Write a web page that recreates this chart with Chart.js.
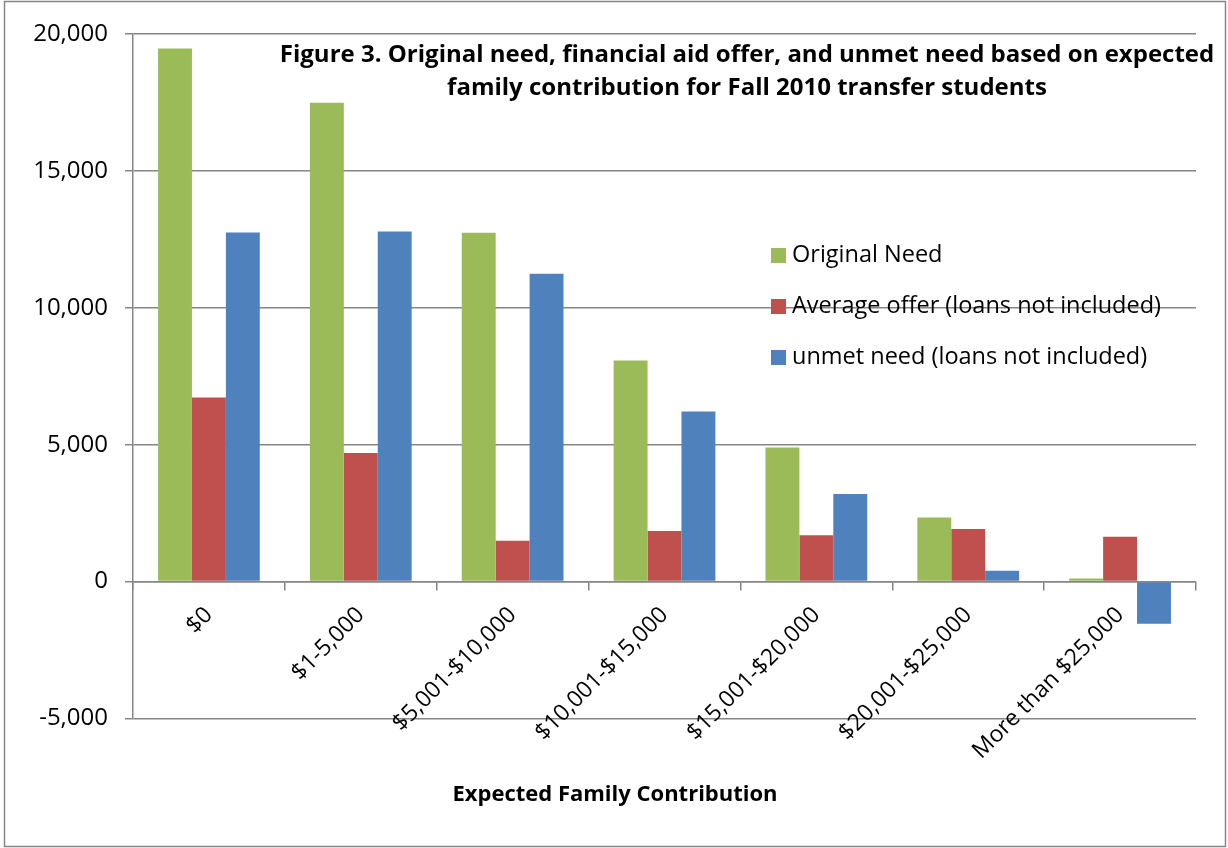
<!DOCTYPE html>
<html>
<head>
<meta charset="utf-8">
<script src="https://cdn.jsdelivr.net/npm/chart.js@4.4.0/dist/chart.umd.min.js"></script>
<style>
  html, body { margin: 0; padding: 0; background: #fff; }
  canvas { display: block; }
</style>
</head>
<body>
<canvas id="efcChart" width="1228" height="848"></canvas>
<script>
const categories = ['$0', '$1-5,000', '$5,001-$10,000', '$10,001-$15,000', '$15,001-$20,000', '$20,001-$25,000', 'More than $25,000'];
const originalNeed = [19470, 17490, 12740, 8075, 4900, 2340, 110];
const averageOffer = [6720, 4700, 1490, 1850, 1690, 1920, 1640];
const unmetNeed = [12750, 12790, 11240, 6210, 3200, 400, -1535];
const yTicks = [-5000, 0, 5000, 10000, 15000, 20000];
const seriesNames = ['Original Need', 'Average offer (loans not included)', 'unmet need (loans not included)'];
const titleLines = [
  'Figure 3. Original need, financial aid offer, and unmet need based on expected',
  'family contribution for Fall 2010 transfer students'
];
const xAxisTitle = 'Expected Family Contribution';

Chart.defaults.font.family = '"Open Sans", sans-serif';
Chart.defaults.color = '#000';

const gridGray = '#868686';

// frame, title block, legend and axis title are placed like the Excel original
const overlayText = {
  id: 'overlayText',
  afterDraw(chart) {
    const ctx = chart.ctx;
    ctx.save();
    ctx.strokeStyle = gridGray;
    ctx.lineWidth = 1.5;
    ctx.strokeRect(4.5, 1.5, 1221, 845);

    ctx.fillStyle = '#000';
    ctx.font = 'bold 24px "Open Sans"';
    ctx.textAlign = 'center';
    ctx.textBaseline = 'middle';
    titleLines.forEach((line, i) => ctx.fillText(line, 747, 55 + i * 33));

    ctx.font = 'bold 22px "Open Sans"';
    ctx.fillText(xAxisTitle, 615, 795);

    ctx.font = '23.5px "Open Sans"';
    ctx.textAlign = 'left';
    chart.data.datasets.forEach((ds, i) => {
      const cy = 255 + i * 51;
      ctx.fillStyle = ds.backgroundColor;
      ctx.fillRect(771, cy - 7, 15, 15);
      ctx.fillStyle = '#000';
      ctx.fillText(ds.label, 792, cy);
    });
    ctx.restore();
  }
};

const ctx = document.getElementById('efcChart').getContext('2d');
const efcChart = new Chart(ctx, {
  type: 'bar',
  data: {
    labels: categories,
    datasets: [
      { label: seriesNames[0], data: originalNeed, backgroundColor: '#9BBB59' },
      { label: seriesNames[1], data: averageOffer, backgroundColor: '#C0504D' },
      { label: seriesNames[2], data: unmetNeed, backgroundColor: '#4F81BD' }
    ]
  },
  options: {
    responsive: false,
    animation: false,
    categoryPercentage: 0.67,
    barPercentage: 1,
    layout: { padding: { left: 0, top: 34, right: 32, bottom: 129.5 } },
    plugins: {
      legend: { display: false },
      tooltip: { enabled: false },
      title: { display: false }
    },
    scales: {
      x: {
        position: { y: 0 },
        ticks: { autoSkip: false, minRotation: 45, maxRotation: 45, padding: 12, font: { size: 23 } },
        grid: { offset: true, drawOnChartArea: false, drawTicks: true, tickLength: 8, color: gridGray, lineWidth: 1.5 },
        border: { color: gridGray, width: 1.5 }
      },
      y: {
        min: -5000,
        max: 20000,
        afterFit(scale) { scale.width = 133; },
        afterBuildTicks(scale) { scale.ticks = yTicks.map((v) => ({ value: v })); },
        ticks: {
          padding: 17,
          font: { size: 24 },
          callback: (v) => Number(v).toLocaleString('en-US')
        },
        grid: { color: gridGray, lineWidth: 1.5, tickLength: 8 },
        border: { color: gridGray, width: 1.5 }
      }
    }
  },
  plugins: [overlayText]
});
</script>
</body>
</html>
